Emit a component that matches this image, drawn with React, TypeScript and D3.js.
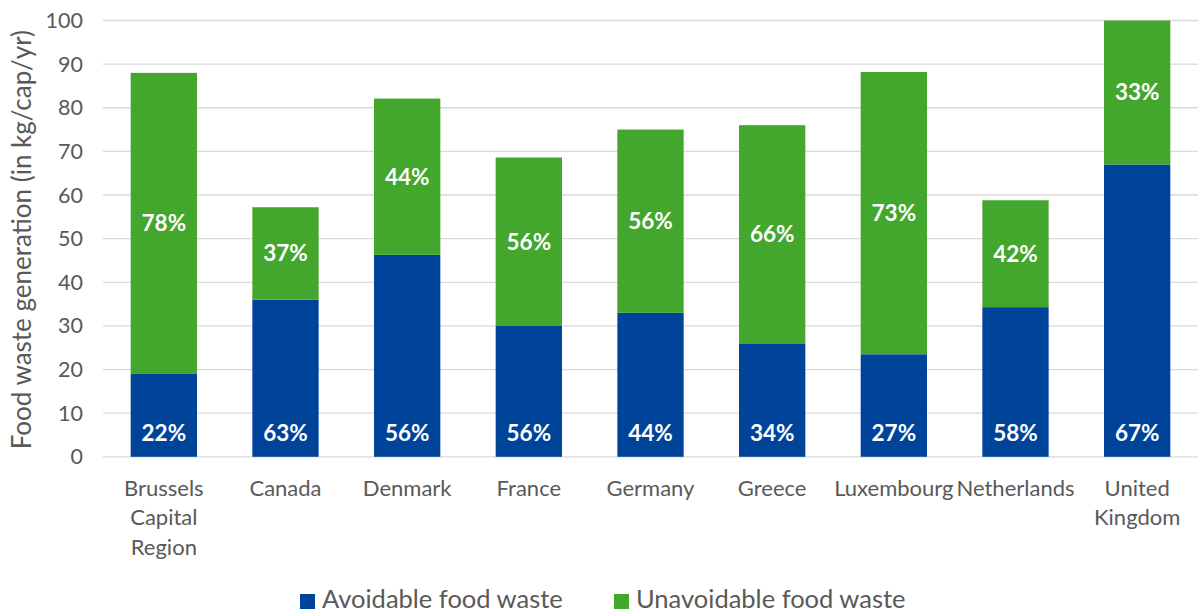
import React from "react";
import * as d3 from "d3";

const categories = [
  ["Brussels", "Capital", "Region"],
  ["Canada"],
  ["Denmark"],
  ["France"],
  ["Germany"],
  ["Greece"],
  ["Luxembourg"],
  ["Netherlands"],
  ["United", "Kingdom"],
];
const avoidable = [19, 36, 46.3, 30, 33, 26, 23.5, 34.3, 67];
const unavoidable = [69, 21.2, 35.8, 38.6, 42, 50, 64.7, 24.5, 33];
const avoidableLabels = ["22%", "63%", "56%", "56%", "44%", "34%", "27%", "58%", "67%"];
const unavoidableLabels = ["78%", "37%", "44%", "56%", "56%", "66%", "73%", "42%", "33%"];
const yTicks = [0, 10, 20, 30, 40, 50, 60, 70, 80, 90, 100];
const seriesNames = ["Avoidable food waste", "Unavoidable food waste"];

const W = 1198;
const H = 615;
const left = 103;
const right = 1198;
const top = 20.5;
const bottom = 456.8;
const BLUE = "#00449A";
const GREEN = "#43A62D";
const TXT = "#595959";
const FONT = "Lato, 'Open Sans', sans-serif";

export default function App() {
  const idx = categories.map((_, i) => i);
  const x = d3.scaleBand<number>().domain(idx).range([left, right]).paddingInner(0.455).paddingOuter(0.2275);
  const y = d3.scaleLinear().domain([0, 100]).range([bottom, top]);
  const bw = x.bandwidth();
  return (
    <svg width={W} height={H} style={{ position: "absolute", left: 0, top: 0 }} fontFamily={FONT}>
      {yTicks.map((t) => (
        <g key={t}>
          <line x1={left} x2={right} y1={y(t)} y2={y(t)} stroke="#d9d9d9" strokeWidth={1.3} />
          <text x={83} y={y(t)} dy="0.35em" textAnchor="end" fontSize={21.5} fill={TXT}>
            {t}
          </text>
        </g>
      ))}
      <text
        transform={`translate(31,${(top + bottom) / 2 + 1}) rotate(-90)`}
        textAnchor="middle"
        fontSize={26}
        fill={TXT}
      >
        Food waste generation (in kg/cap/yr)
      </text>
      {idx.map((i) => {
        const x0 = x(i)!;
        const cx = x0 + bw / 2;
        const a = avoidable[i];
        const u = unavoidable[i];
        return (
          <g key={i}>
            <rect x={x0} y={y(a)} width={bw} height={y(0) - y(a)} fill={BLUE} />
            <rect x={x0} y={y(a + u)} width={bw} height={y(a) - y(a + u)} fill={GREEN} />
            <text x={cx} y={y(0) - 24} dy="0.35em" textAnchor="middle" fontSize={22.5} fontWeight="bold" fill="#fff">
              {avoidableLabels[i]}
            </text>
            <text x={cx} y={y(a + u / 2)} dy="0.35em" textAnchor="middle" fontSize={22.5} fontWeight="bold" fill="#fff">
              {unavoidableLabels[i]}
            </text>
            {categories[i].map((line, k) => (
              <text key={k} x={cx} y={488 + k * 29.5} dy="0.35em" textAnchor="middle" fontSize={22} fill={TXT}>
                {line}
              </text>
            ))}
          </g>
        );
      })}
      {seriesNames.map((n, k) => {
        const lx = k === 0 ? 300 : 614;
        return (
          <g key={n}>
            <rect x={lx} y={594} width={15} height={15} fill={k === 0 ? BLUE : GREEN} />
            <text x={lx + 22} y={608} fontSize={25.5} fill={TXT}>
              {n}
            </text>
          </g>
        );
      })}
    </svg>
  );
}
